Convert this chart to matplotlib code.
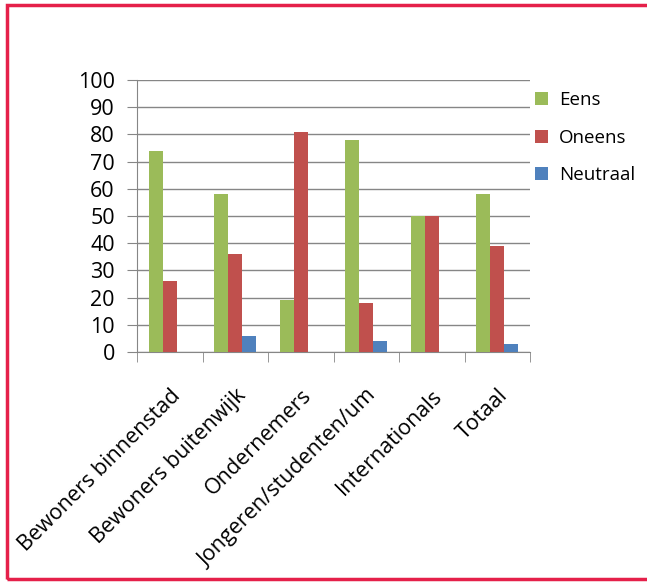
import numpy as np
import matplotlib.pyplot as plt
from matplotlib.patches import Rectangle

categories = ['Bewoners binnenstad', 'Bewoners buitenwijk', 'Ondernemers',
              'Jongeren/studenten/um', 'Internationals', 'Totaal']
eens = [74, 58, 19, 78, 50, 58]
oneens = [26, 36, 81, 18, 50, 39]
neutraal = [0, 6, 0, 4, 0, 3]
series = ['Eens', 'Oneens', 'Neutraal']
colors = ['#9BBB59', '#C0504D', '#4F81BD']

plt.rcParams['font.family'] = ['Open Sans', 'DejaVu Sans']
fs = 15.5

fig = plt.figure(figsize=(6.47, 5.82), dpi=100)
ax = fig.add_axes([137/647, (582-352)/582, (530-137)/647, (352-80)/582])

x = np.arange(len(categories))
w = 0.215
for i, (vals, name, c) in enumerate(zip([eens, oneens, neutraal], series, colors)):
    ax.bar(x + (i - 1) * w, vals, w, color=c, label=name, zorder=3)

ax.set_xlim(-0.5, len(categories) - 0.5)
ax.set_ylim(0, 100)
ax.set_yticks(range(0, 101, 10))
ax.yaxis.grid(True, color='#868686', lw=1, zorder=0)
ax.tick_params(axis='y', length=7, color='#868686', labelsize=fs, pad=9)

ax.set_xticks(x)
ax.set_xticklabels(categories, rotation=45, ha='right', rotation_mode='anchor', fontsize=fs)
ax.set_xticks(np.arange(-0.5, len(categories)), minor=True)
ax.tick_params(axis='x', which='major', length=0, pad=24)
ax.tick_params(axis='x', which='minor', length=7, color='#868686')

for s in ['top', 'right']:
    ax.spines[s].set_visible(False)
for s in ['left', 'bottom']:
    ax.spines[s].set_color('#868686')

ax.legend(loc='upper left', bbox_to_anchor=(535/647, 1 - 91/582), bbox_transform=fig.transFigure,
          frameon=False, fontsize=13.5, handlelength=0.7, handleheight=0.7,
          handletextpad=0.6, labelspacing=1.05, borderpad=0, borderaxespad=0)

fig.patches.append(Rectangle((7/647, 3/582), 1.2, 574/582, transform=fig.transFigure,
                             fill=False, edgecolor='#E5204A', lw=2.5, clip_on=False))

fig.savefig('out.png', dpi=100)
